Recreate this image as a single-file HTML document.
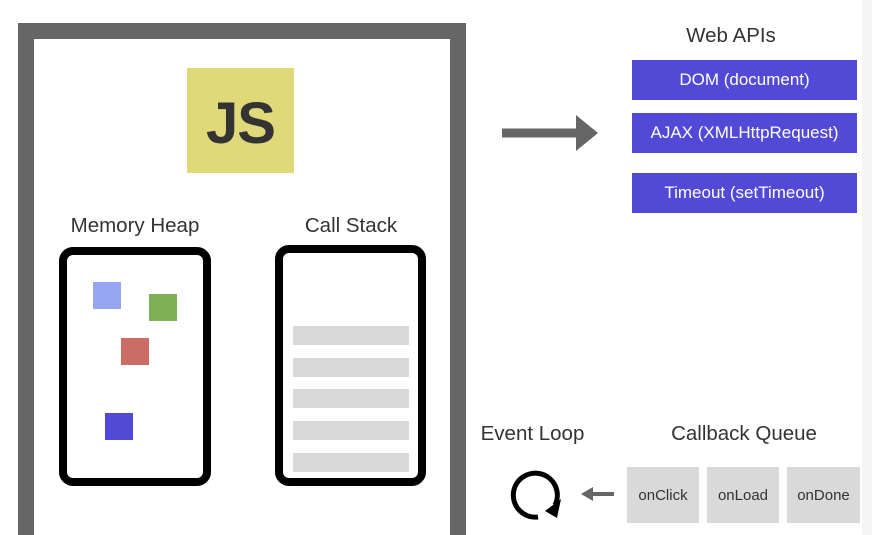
<!DOCTYPE html>
<html style="overflow:hidden;height:535px"><head><meta charset="utf-8"><style>
body{margin:0;width:872px;height:535px;background:#fff;position:relative;overflow:hidden;font-family:"Liberation Sans",sans-serif;color:#333}
div{position:absolute;box-sizing:border-box}
.t{font-size:20.5px;white-space:nowrap;text-align:center}
.api{background:#5249d6;color:#fff;font-size:17px;display:flex;align-items:center;justify-content:center;left:632px;width:225px;height:40px}
.bar{background:#d9d9d9;left:293px;width:116px;height:19px}
.q{background:#d9d9d9;top:467px;height:56px;width:72px;font-size:15px;display:flex;align-items:center;justify-content:center}
</style></head><body>
<div style="left:862px;top:0;width:10px;height:535px;background:#f5f5f5"></div>
<div style="left:18px;top:23px;width:448px;height:530px;border:16px solid #666;background:#fff"></div>
<div style="left:187px;top:68px;width:107px;height:105px;background:#e0d97a;color:#333;font-weight:bold;font-size:58px;display:flex;align-items:center;justify-content:center;padding-top:6px;letter-spacing:-1px">JS</div>
<div class="t" style="left:55px;top:214px;width:160px">Memory Heap</div>
<div class="t" style="left:271px;top:214px;width:160px">Call Stack</div>
<div style="left:59px;top:247px;width:152px;height:239px;border:8px solid #000;border-radius:14px"></div>
<div style="left:275px;top:245px;width:151px;height:241px;border:8px solid #000;border-radius:14px"></div>
<div style="left:93px;top:282px;width:28px;height:27px;background:#96a6f2"></div>
<div style="left:149px;top:294px;width:28px;height:27px;background:#7fb055"></div>
<div style="left:121px;top:338px;width:28px;height:27px;background:#cc6d65"></div>
<div style="left:105px;top:413px;width:28px;height:27px;background:#5249d6"></div>
<div class="bar" style="top:326px"></div><div class="bar" style="top:358px"></div><div class="bar" style="top:389px"></div><div class="bar" style="top:421px"></div><div class="bar" style="top:453px"></div>
<div class="t" style="left:651px;top:24px;width:160px">Web APIs</div>
<div class="api" style="top:60px">DOM (document)</div>
<div class="api" style="top:113px">AJAX (XMLHttpRequest)</div>
<div class="api" style="top:173px">Timeout (setTimeout)</div>
<svg style="position:absolute;left:0;top:0" width="872" height="535">
<line x1="502" y1="133" x2="580" y2="133" stroke="#666" stroke-width="9"/>
<polygon points="576,115 598,133 576,151" fill="#666"/>
<line x1="592" y1="494" x2="614" y2="494" stroke="#666" stroke-width="4"/>
<polygon points="581,494 593,487 593,501" fill="#666"/>
<path d="M538,517 A22,22 0 1 1 555,505" fill="none" stroke="#000" stroke-width="5"/>
<polygon points="545,511 561,499 557,518" fill="#000"/>
</svg>
<div class="t" style="left:470px;top:422px;width:125px">Event Loop</div>
<div class="t" style="left:664px;top:422px;width:160px">Callback Queue</div>
<div class="q" style="left:627px">onClick</div>
<div class="q" style="left:707px">onLoad</div>
<div class="q" style="left:787px;width:73px">onDone</div>
</body></html>
